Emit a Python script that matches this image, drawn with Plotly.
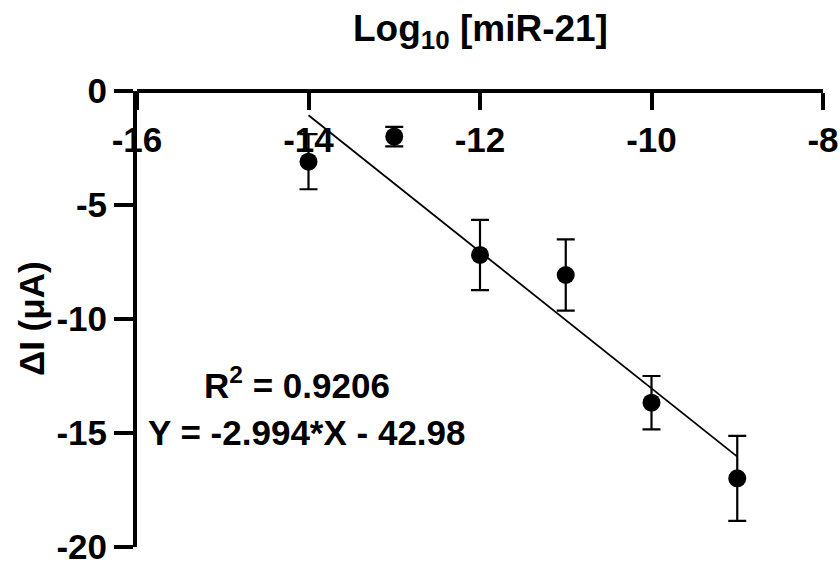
import plotly.graph_objects as go

# Calibration data: log10 concentration vs. current change
log_conc = [-14, -13, -12, -11, -10, -9]
delta_i = [-3.10, -2.00, -7.19, -8.07, -13.67, -16.99]
delta_i_err = [1.21, 0.43, 1.54, 1.56, 1.17, 1.86]

# Linear fit reported on the chart
slope = -2.994
intercept = -42.98
r_squared = 0.9206
fit_x = [min(log_conc), max(log_conc)]
fit_y = [slope * x + intercept for x in fit_x]

x_ticks = [-16, -14, -12, -10, -8]
y_ticks = [0, -5, -10, -15, -20]

FONT = "Liberation Sans, Arial, sans-serif"
TICK_SIZE = 35
TEXT_SIZE = 35

fig = go.Figure()

fig.add_trace(go.Scatter(
    x=fit_x, y=fit_y, mode="lines",
    line=dict(color="black", width=1.8),
    showlegend=False, hoverinfo="skip",
))

fig.add_trace(go.Scatter(
    x=log_conc, y=delta_i, mode="markers",
    marker=dict(color="black", size=18),
    error_y=dict(type="data", array=delta_i_err, visible=True,
                 color="black", thickness=2.2, width=9),
    showlegend=False,
))

fig.update_layout(
    width=840, height=563,
    margin=dict(l=137, r=17, t=91, b=16),
    paper_bgcolor="white", plot_bgcolor="white",
    font=dict(family=FONT, color="black"),
    xaxis=dict(
        range=[-16, -8], tickvals=x_ticks,
        ticktext=[f"<b>{v}</b>" for v in x_ticks],
        anchor="free", position=1, side="bottom",
        showline=True, linecolor="black", linewidth=4,
        ticks="outside", ticklen=17, tickwidth=4, tickcolor="black",
        tickfont=dict(size=TICK_SIZE, family=FONT),
        ticklabeloverflow="allow", automargin=False,
        showgrid=False, zeroline=False,
    ),
    yaxis=dict(
        range=[-20, 0], tickvals=y_ticks,
        ticktext=[f"<b>{v}</b>" for v in y_ticks],
        showline=True, linecolor="black", linewidth=4,
        ticks="outside", ticklen=19, tickwidth=4, tickcolor="black",
        tickfont=dict(size=TICK_SIZE, family=FONT),
        ticklabeloverflow="allow", automargin=False,
        showgrid=False, zeroline=False,
    ),
)

fig.add_annotation(
    text="<b>Log<sub>10</sub> [miR-21]</b>",
    xref="paper", yref="paper", x=0.5, y=1, yshift=60,
    xanchor="center", yanchor="middle", showarrow=False,
    font=dict(size=37, family=FONT),
)

fig.add_annotation(
    text="<b>ΔI (μA)</b>",
    xref="paper", yref="paper", x=0, xshift=-106, y=0.5,
    xanchor="center", yanchor="middle", textangle=-90, showarrow=False,
    font=dict(size=TEXT_SIZE, family=FONT),
)

fig.add_annotation(
    text=f"<b>R<sup>2</sup> = {r_squared}</b>",
    x=-14.13, y=-12.8, xanchor="center", yanchor="middle", showarrow=False,
    font=dict(size=TEXT_SIZE, family=FONT),
)

fig.add_annotation(
    text=f"<b>Y = {slope}*X - {abs(intercept)}</b>",
    x=-14.02, y=-14.96, xanchor="center", yanchor="middle", showarrow=False,
    font=dict(size=TEXT_SIZE, family=FONT),
)

fig.write_html("out.html")
